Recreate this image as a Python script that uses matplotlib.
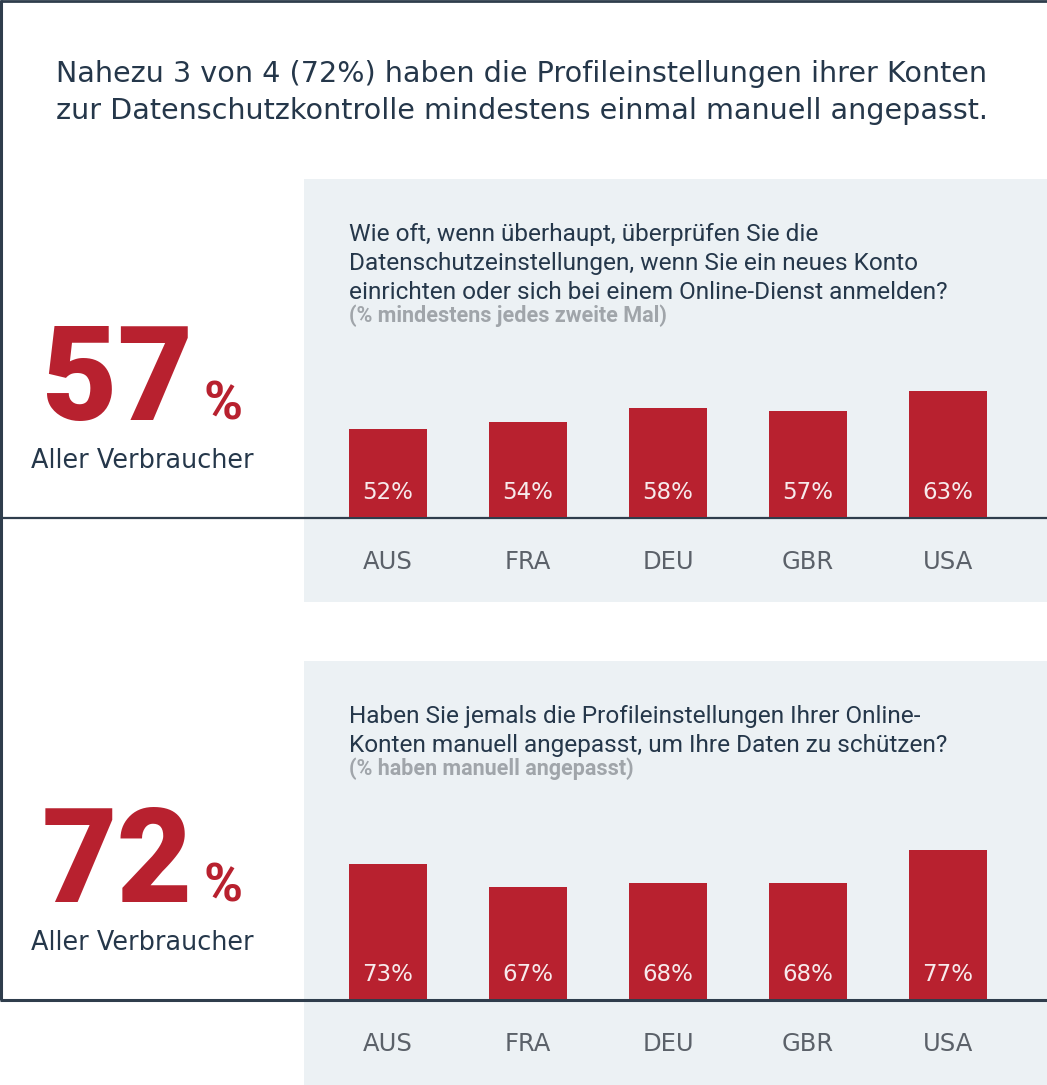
import matplotlib.pyplot as plt

# Data
countries = ['AUS', 'FRA', 'DEU', 'GBR', 'USA']
check_values = [52, 54, 58, 57, 63]      # % mindestens jedes zweite Mal
adjust_values = [73, 67, 68, 68, 77]     # % haben manuell angepasst
headline_values = ['57', '72']

title_lines = [
    'Nahezu 3 von 4 (72%) haben die Profileinstellungen ihrer Konten',
    'zur Datenschutzkontrolle mindestens einmal manuell angepasst.',
]
question1 = [
    'Wie oft, wenn überhaupt, überprüfen Sie die',
    'Datenschutzeinstellungen, wenn Sie ein neues Konto',
    'einrichten oder sich bei einem Online-Dienst anmelden?',
]
sub1 = '(% mindestens jedes zweite Mal)'
question2 = [
    'Haben Sie jemals die Profileinstellungen Ihrer Online-',
    'Konten manuell angepasst, um Ihre Daten zu schützen?',
]
sub2 = '(% haben manuell angepasst)'

# Colours
RED = '#b8212f'
NAVY = '#25374a'
LINE = '#2f3d4c'
PANEL = '#ecf1f4'
GREY_TXT = '#5b6169'
SUB_TXT = '#a0a5aa'

W, H = 1047, 1085
fig = plt.figure(figsize=(W / 100, H / 100), dpi=100)

# background layer in pixel coordinates
bg = fig.add_axes([0, 0, 1, 1])
bg.set_xlim(0, W)
bg.set_ylim(H, 0)
bg.axis('off')

bg.add_patch(plt.Rectangle((304, 179), W - 304, 423, color=PANEL, lw=0))
bg.add_patch(plt.Rectangle((304, 661), W - 304, H - 661, color=PANEL, lw=0))

# frame lines
bg.plot([0, W], [1, 1], color=LINE, lw=2, solid_capstyle='butt')
bg.plot([1, 1], [0, 1000], color=LINE, lw=2.2, solid_capstyle='butt')
bg.plot([0, W], [517.5, 517.5], color=LINE, lw=1.6, solid_capstyle='butt', zorder=5)
bg.plot([0, W], [999.5, 999.5], color=LINE, lw=2.2, solid_capstyle='butt', zorder=5)

# headline
for i, line in enumerate(title_lines):
    bg.text(56, 82 + 37 * i, line, fontsize=20.6, color=NAVY,
            family='DejaVu Sans', va='baseline', ha='left')


def add_panel(values, baseline, v0, slope, lines, sub, big, text_base):
    """Bar chart in one grey panel, with the big number on the left."""
    height_px = 338
    ax = fig.add_axes([304 / W, (H - baseline) / H, (W - 304) / W, height_px / H])
    ax.patch.set_alpha(0)
    ax.set_xlim(-0.6, 4.707)
    ax.set_ylim(v0, v0 + height_px / slope)
    ax.bar(range(len(values)), values, width=0.564, color=RED, zorder=3)
    for i, v in enumerate(values):
        ax.annotate(f'{v}%', (i, v0), xytext=(0, 17.5), textcoords='offset points',
                    ha='center', va='center', color='#f7eaec', fontsize=16.5,
                    family='DejaVu Sans', zorder=4)
    ax.set_xticks(range(len(countries)), countries)
    ax.tick_params(length=0, pad=24, labelsize=17.5, labelcolor=GREY_TXT)
    for lab in ax.get_xticklabels():
        lab.set_family('DejaVu Sans')
    ax.set_yticks([])
    for s in ax.spines.values():
        s.set_visible(False)

    # question text
    for i, line in enumerate(lines):
        bg.text(349, text_base + 29 * i, line, fontsize=17.6, color=NAVY,
                family='Roboto', va='baseline')
    bg.text(349, text_base + 29 * (len(lines) - 1) + 23, sub, fontsize=15.5,
            color=SUB_TXT, family='Roboto', weight='bold', va='baseline')

    # big number
    y_num = baseline - 97
    bg.text(42, y_num, big, fontsize=94, color=RED, family='Roboto',
            weight='black', va='baseline')
    bg.text(203, y_num, '%', fontsize=38, color=RED, family='Roboto',
            weight='bold', va='baseline')
    bg.text(31, y_num + 48, 'Aller Verbraucher', fontsize=18.4, color=NAVY,
            family='DejaVu Sans', va='baseline')
    return ax


add_panel(check_values, 517, 26.1, 3.415, question1, sub1, headline_values[0], 241)
add_panel(adjust_values, 999, 36.6, 3.7, question2, sub2, headline_values[1], 723)

fig.savefig('out.png', dpi=100)
